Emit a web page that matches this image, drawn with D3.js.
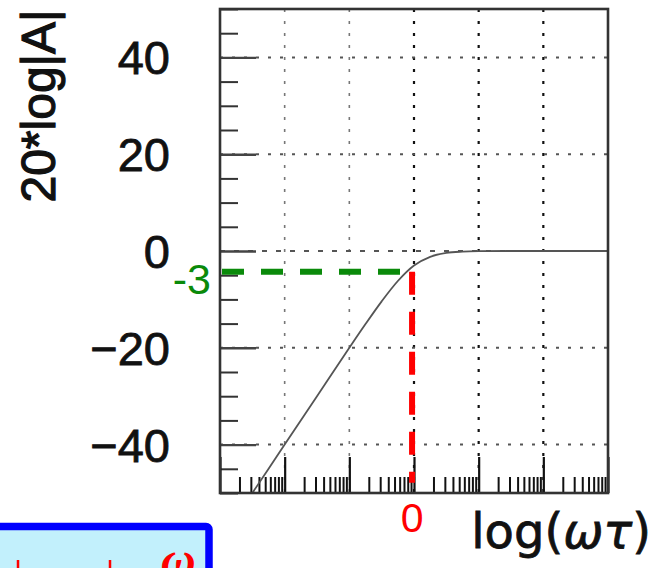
<!DOCTYPE html>
<html>
<head>
<meta charset="utf-8">
<script src="https://cdn.jsdelivr.net/npm/d3@7"></script>
<style>
  html, body { margin: 0; padding: 0; background: #fff; }
  svg { display: block; }
</style>
</head>
<body>
<svg id="chart" width="653" height="568"></svg>
<script>
// ---- data ----
const curveX = [-3, -2.5, -2, -1.5, -1, -0.75, -0.5, -0.25, 0, 0.25, 0.5, 0.75, 1, 1.5, 2, 2.5, 3];
const curveY = [-60, -50, -40, -30, -20, -15.1, -10.4, -6.2, -3, -1.2, -0.4, -0.13, -0.04, 0, 0, 0, 0];
const yTickLabels = [-40, -20, 0, 20, 40];
const yMinorStep = 5;
const xDecades = [-3, -2, -1, 0, 1, 2, 3];
const xGridValues = [-2, -1, 0, 1, 2];
const yGridValues = [-40, -20, 0, 20, 40];
const cutoffLabel = "-3";
const cutoffDrawnLevel = -4.3;   // level at which the green dashed line is drawn
const cutoffX = -0.03;           // position of the red dashed line
const greenEndX = -0.2;
const redEndY = -47.9;
const xZeroLabel = "0";
const yTitle = "20*log|A|";

// ---- layout ----
const svg = d3.select("#chart");
const x = d3.scaleLinear().domain([-3, 3]).range([220, 608]);
const y = d3.scaleLinear().domain([-50, 50]).range([493, 9]);
const FONT = "'Liberation Sans', Arial, Helvetica, sans-serif";

svg.append("defs").append("clipPath").attr("id", "plotclip")
  .append("rect").attr("x", x(-3)).attr("y", y(50)).attr("width", x(3) - x(-3)).attr("height", y(-50) - y(50));

// grid lines
const grid = svg.append("g");
grid.selectAll("line.vg").data(xGridValues).join("line")
  .attr("x1", d => x(d)).attr("x2", d => x(d))
  .attr("y1", y(50)).attr("y2", y(-50))
  .attr("stroke", d => d >= 0 ? "#111" : "#777")
  .attr("stroke-width", d => d >= 0 ? 2.2 : 1.6)
  .attr("stroke-dasharray", "3,9");
grid.selectAll("line.hg").data(yGridValues).join("line")
  .attr("x1", x(-3)).attr("x2", x(3))
  .attr("y1", d => y(d)).attr("y2", d => y(d))
  .attr("stroke", "#555")
  .attr("stroke-width", 2)
  .attr("stroke-dasharray", d => d === 0 ? "5,9" : "3,9");

// y minor / major ticks (inward, from left frame)
const yMinor = d3.range(-50, 50 + 0.001, yMinorStep).filter(v => v % 20 !== 0);
svg.append("g").attr("transform", `translate(${x(-3)},0)`)
  .call(d3.axisRight(y).tickValues(yMinor).tickSize(18).tickFormat(""))
  .call(g => g.select(".domain").remove())
  .call(g => g.selectAll(".tick line").attr("stroke", "#333").attr("stroke-width", 2));
svg.append("g").attr("transform", `translate(${x(-3)},0)`)
  .call(d3.axisRight(y).tickValues(yTickLabels).tickSize(36).tickFormat(""))
  .call(g => g.select(".domain").remove())
  .call(g => g.selectAll(".tick line").attr("stroke", "#444").attr("stroke-width", 2.4));

// y labels
svg.append("g").attr("transform", `translate(${x(-3)},0)`)
  .call(d3.axisLeft(y).tickValues(yTickLabels).tickSize(0).tickPadding(50))
  .call(g => g.select(".domain").remove())
  .call(g => g.selectAll(".tick text")
    .attr("font-family", FONT).attr("font-size", 47).attr("fill", "#111")
    .attr("stroke", "#111").attr("stroke-width", 0.8)
    .attr("dy", "0.35em"));

// x ticks along bottom (log ticks)
const xMinor = [];
xDecades.slice(0, -1).forEach(d => { for (let k = 2; k <= 9; k++) xMinor.push(d + Math.log10(k)); });
svg.append("g").attr("transform", `translate(0,${y(-50)})`)
  .call(d3.axisTop(x).tickValues(xMinor).tickSize(16).tickFormat(""))
  .call(g => g.select(".domain").remove())
  .call(g => g.selectAll(".tick line").attr("stroke", "#111").attr("stroke-width", 2));
svg.append("g").attr("transform", `translate(0,${y(-50)})`)
  .call(d3.axisTop(x).tickValues(xDecades).tickSize(36).tickFormat(""))
  .call(g => g.select(".domain").remove())
  .call(g => g.selectAll(".tick line").attr("stroke", "#111").attr("stroke-width", 2.2));

// curve
const pts = curveX.map((v, i) => [v, curveY[i]]);
svg.append("path").datum(pts)
  .attr("clip-path", "url(#plotclip)")
  .attr("fill", "none").attr("stroke", "#555").attr("stroke-width", 1.8)
  .attr("d", d3.line().x(d => x(d[0])).y(d => y(d[1])).curve(d3.curveMonotoneX));

// frame
svg.append("rect")
  .attr("x", x(-3)).attr("y", y(50))
  .attr("width", x(3) - x(-3)).attr("height", y(-50) - y(50))
  .attr("fill", "none").attr("stroke", "#333").attr("stroke-width", 2.6);

// green dashed line at cutoff
svg.append("line")
  .attr("x1", x(-3) + 2).attr("x2", x(greenEndX))
  .attr("y1", y(cutoffDrawnLevel)).attr("y2", y(cutoffDrawnLevel))
  .attr("stroke", "#0a8a0a").attr("stroke-width", 6)
  .attr("stroke-dasharray", "22,17");
// red dashed line at x = 0
svg.append("line")
  .attr("x1", x(cutoffX)).attr("x2", x(cutoffX))
  .attr("y1", y(cutoffDrawnLevel)).attr("y2", y(redEndY))
  .attr("stroke", "#ff0000").attr("stroke-width", 6)
  .attr("stroke-dasharray", "23,17");

// annotation labels
svg.append("text").attr("x", x(-3) - 9).attr("y", y(cutoffDrawnLevel) + 22)
  .attr("text-anchor", "end").attr("font-family", FONT).attr("font-size", 43)
  .attr("fill", "#0a8a0a").text(cutoffLabel);
svg.append("text").attr("x", x(cutoffX)).attr("y", 532)
  .attr("text-anchor", "middle").attr("font-family", FONT).attr("font-size", 41)
  .attr("fill", "#ff0000").text(xZeroLabel);

// axis titles
svg.append("text")
  .attr("transform", "translate(55,106) rotate(-90)")
  .attr("text-anchor", "middle").attr("font-family", FONT).attr("font-size", 48)
  .attr("fill", "#111").attr("stroke", "#111").attr("stroke-width", 1.2)
  .text(yTitle);
const xt = svg.append("text").attr("x", 651).attr("y", 548)
  .attr("text-anchor", "end").attr("font-family", "'DejaVu Sans', sans-serif")
  .attr("font-size", 48).attr("fill", "#111").attr("stroke", "#111").attr("stroke-width", 0.8);
xt.append("tspan").text("log(");
xt.append("tspan").attr("font-style", "italic").text("ωτ");
xt.append("tspan").text(")");

// blue box at bottom-left
svg.append("rect")
  .attr("x", -20).attr("y", 526.5).attr("width", 229).attr("height", 80)
  .attr("rx", 3)
  .attr("fill", "#c2f0fc").attr("stroke", "#0000ff").attr("stroke-width", 7.5);
svg.append("g").selectAll("line").data([18, 110]).join("line")
  .attr("x1", d => d).attr("x2", d => d).attr("y1", 560).attr("y2", 570)
  .attr("stroke", "#ff0000").attr("stroke-width", 2.5);
svg.append("text").attr("x", 161).attr("y", 576)
  .attr("font-family", "'Liberation Serif', 'Times New Roman', serif")
  .attr("font-style", "italic").attr("font-weight", "bold")
  .attr("font-size", 48).attr("fill", "#ff0000").text("ω");
</script>
</body>
</html>
